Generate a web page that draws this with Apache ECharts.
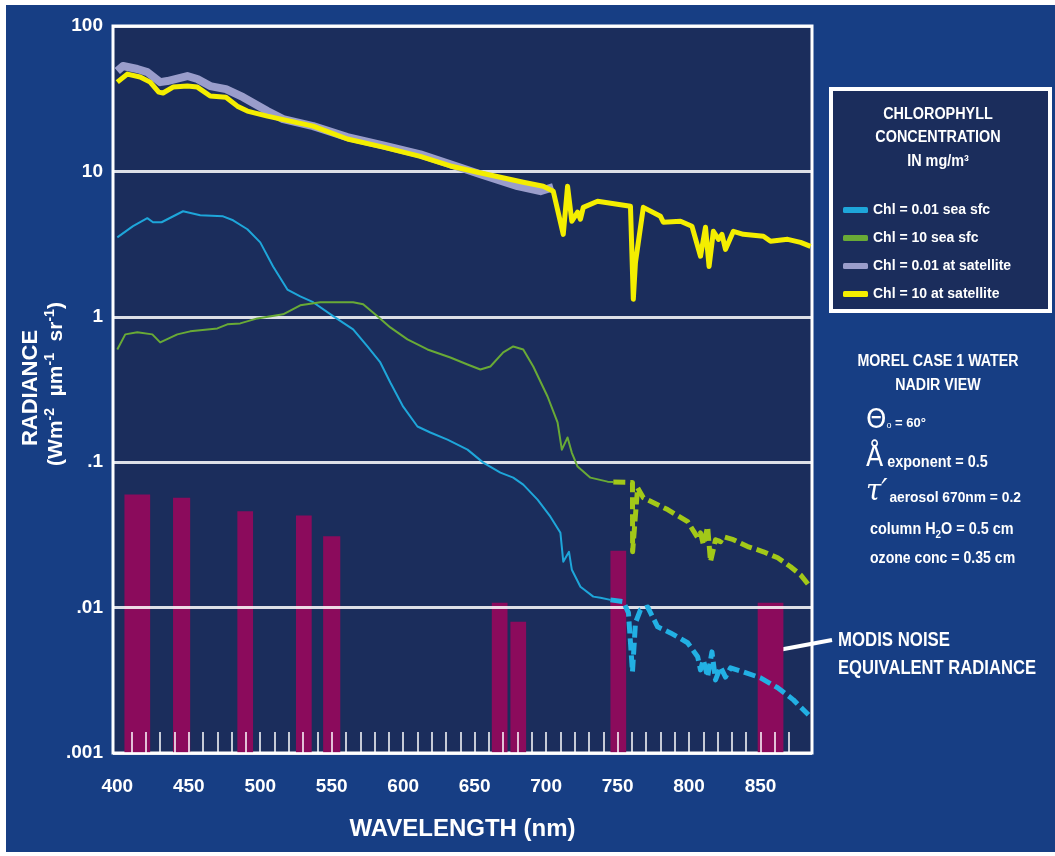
<!DOCTYPE html>
<html>
<head>
<meta charset="utf-8">
<script src="https://cdn.jsdelivr.net/npm/echarts@6/dist/echarts.min.js"></script>
<style>
  html, body { margin: 0; padding: 0; background: #ffffff; }
  #chart { width: 1055px; height: 856px; }
</style>
</head>
<body>
<div id="chart"></div>
<script>
// x ticks / labels
const xTickLabels = [400, 450, 500, 550, 600, 650, 700, 750, 800, 850]
const yTickLabels = ['.001', '.01', '.1', '1', '10', '100']

// MODIS noise equivalent radiance bands (nm) and heights
const noiseBandStart = [405, 439, 484, 525, 544, 662, 675, 745, 848]
const noiseBandEnd = [423, 451, 495, 536, 556, 673, 686, 756, 866]
const noiseRadiance = [0.060, 0.057, 0.046, 0.043, 0.031, 0.0108, 0.0080, 0.0246, 0.0108]

// Chl = 0.01 sea sfc
const blueSeaWl = [400, 411, 421, 425, 431, 446, 458, 474, 481, 491, 500, 509, 519, 528, 537, 551, 565, 575, 584, 591, 600, 610, 619, 631, 645, 656, 668, 677, 684, 694, 703, 710, 712, 716, 718, 724, 733, 738, 745]
const blueSeaRad = [3.52, 4.20, 4.77, 4.47, 4.47, 5.32, 4.99, 4.91, 4.61, 4.00, 3.25, 2.22, 1.54, 1.38, 1.26, 1.01, 0.819, 0.625, 0.485, 0.353, 0.241, 0.176, 0.160, 0.143, 0.122, 0.0993, 0.0848, 0.0783, 0.0701, 0.0553, 0.0422, 0.0327, 0.0207, 0.0242, 0.0182, 0.0139, 0.0119, 0.0117, 0.0113]
const blueSeaDashWl = [745, 754, 757.6, 760.4, 762.5, 766, 771, 778, 787, 799, 806, 808, 810, 813, 816, 818.5, 822, 825.5, 829, 838, 850, 862, 873, 883.5]
const blueSeaDashRad = [0.0113, 0.0110, 0.0092, 0.00361, 0.00786, 0.00966, 0.0101, 0.00738, 0.0067, 0.00573, 0.00459, 0.00373, 0.00437, 0.00333, 0.00496, 0.00318, 0.00391, 0.00333, 0.00385, 0.00361, 0.00329, 0.00281, 0.00232, 0.00183]

// Chl = 10 sea sfc
const greenSeaWl = [400, 405.6, 414, 424.5, 430, 442, 451, 470, 477, 486, 498, 516, 528, 542, 565, 572, 582, 591, 603, 617, 633, 645, 654, 661, 670, 677, 684, 691, 701, 708, 711, 715, 718, 722, 731, 743, 747]
const greenSeaRad = [0.596, 0.757, 0.782, 0.757, 0.667, 0.757, 0.794, 0.832, 0.887, 0.901, 0.975, 1.04, 1.20, 1.26, 1.26, 1.22, 1.01, 0.845, 0.699, 0.596, 0.525, 0.470, 0.434, 0.455, 0.569, 0.625, 0.596, 0.455, 0.283, 0.188, 0.122, 0.148, 0.116, 0.0933, 0.0783, 0.0735, 0.0730]
const greenSeaDashWl = [747, 760.4, 760.5, 764, 768, 785, 799, 806, 808, 810, 813, 815, 818.5, 822, 824, 831, 841, 852, 862, 871, 878, 883.5]
const greenSeaDashRad = [0.0730, 0.0725, 0.0242, 0.0668, 0.0570, 0.0472, 0.0390, 0.0303, 0.0327, 0.0271, 0.0360, 0.0207, 0.0293, 0.0284, 0.0307, 0.0293, 0.0263, 0.0242, 0.0220, 0.0191, 0.0168, 0.0144]

// Chl = 0.01 at satellite
const purpleSatWl = [400, 404, 414, 421, 430, 435, 449, 456, 465, 476, 488, 505, 516, 537, 561, 586, 612, 633, 654, 680, 696, 705]
const purpleSatRad = [49.0, 53.1, 50.6, 48.2, 41.1, 41.8, 45.3, 43.2, 38.6, 36.8, 32.4, 26.0, 22.9, 20.5, 17.2, 15.1, 13.1, 11.2, 9.57, 7.91, 7.31, 7.79]

// Chl = 10 at satellite
const yellowSatWl = [400, 407, 416, 423, 429, 432, 439, 449, 456, 465, 476, 484, 491, 505, 537, 561, 586, 612, 633, 652, 668, 684, 698, 705, 712, 715, 718, 722, 724, 726, 736, 759, 761, 762.5, 768, 780, 782, 794, 802, 808, 811.5, 814, 817, 820.6, 823, 825.5, 831, 838, 852, 857, 869, 878, 885]
const yellowSatRad = [41.1, 46.7, 44.6, 41.1, 35.1, 34.6, 38.0, 38.6, 38.0, 33.0, 32.4, 28.1, 26.0, 24.0, 20.5, 16.7, 14.7, 12.7, 10.9, 9.87, 9.12, 8.43, 7.91, 7.3, 3.69, 7.9, 4.54, 5.24, 4.69, 5.66, 6.23, 5.76, 1.32, 2.37, 5.66, 4.91, 4.47, 4.54, 4.2, 2.61, 4.13, 2.22, 3.87, 3.41, 3.69, 2.91, 3.87, 3.69, 3.58, 3.31, 3.41, 3.25, 3.05]

const names = ['Chl = 0.01 sea sfc', 'Chl = 10 sea sfc', 'Chl = 0.01 at satellite', 'Chl = 10 at satellite']

const FONT = '"Liberation Sans", Arial, sans-serif'
const pairs = (xs, ys) => xs.map((x, i) => [x, ys[i]])
const yMin = 0.001

// short ticks every 10 nm along the bottom
const minorTicks = []
for (let w = 410; w <= 870; w += 10) minorTicks.push(w)

const chart = echarts.init(document.getElementById('chart'))

const lineSeries = (name, xs, ys, color, width, dashed, z) => ({
    name: name,
    type: 'line',
    data: pairs(xs, ys),
    color: color,
    showSymbol: false,
    symbol: 'none',
    z: z,
    lineStyle: {
        color: color,
        width: width,
        type: dashed ? [12, 5] : 'solid',
        cap: 'butt',
        join: 'round'
    }
})

// plain text; sx squeezes it sideways since no narrow font is installed
const txt = (x, y, text, size, align, sx, extra) => ({
    type: 'text',
    x: x,
    y: y,
    scaleX: sx || 1,
    style: Object.assign({
        text: text,
        fill: '#ffffff',
        font: 'bold ' + size + 'px ' + FONT,
        align: align || 'left',
        verticalAlign: 'middle'
    }, extra || {})
})

chart.setOption({
    animation: false,
    backgroundColor: '#173e84',
    grid: {
        left: 113,
        right: 243,
        top: 26,
        bottom: 103,
        show: true,
        backgroundColor: '#1b2d5c',
        borderColor: '#ffffff',
        borderWidth: 3
    },
    legend: {
        data: names,
        orient: 'vertical',
        left: 838,
        top: 196,
        itemGap: 10,
        itemWidth: 25,
        itemHeight: 6,
        icon: 'roundRect',
        selectedMode: false,
        textStyle: {
            color: '#ffffff',
            fontWeight: 'bold',
            fontSize: 14,
            lineHeight: 18,
            fontFamily: FONT
        }
    },
    xAxis: {
        type: 'value',
        min: 397,
        max: 886,
        z: 3,
        axisLine: { show: false },
        splitLine: { show: false },
        axisTick: {
            show: true,
            inside: true,
            length: 21,
            customValues: minorTicks,
            lineStyle: { color: '#ffffff', width: 1.5 }
        },
        axisLabel: {
            customValues: xTickLabels,
            color: '#ffffff',
            fontWeight: 'bold',
            fontSize: 19,
            fontFamily: FONT,
            margin: 24
        },
        name: 'WAVELENGTH (nm)',
        nameLocation: 'middle',
        nameGap: 64,
        nameTextStyle: {
            color: '#ffffff',
            fontWeight: 'bold',
            fontSize: 24,
            fontFamily: FONT
        }
    },
    yAxis: {
        type: 'log',
        logBase: 10,
        min: yMin,
        max: 100,
        z: 3,
        axisLine: { show: false },
        axisTick: { show: false },
        splitLine: {
            show: true,
            lineStyle: { color: '#ffffff', width: 3, opacity: 0.85 }
        },
        axisLabel: {
            color: '#ffffff',
            fontWeight: 'bold',
            fontSize: 19,
            fontFamily: FONT,
            margin: 10,
            formatter: v => yTickLabels[Math.round(Math.log10(v)) + 3]
        }
    },
    series: [
        {
            type: 'custom',
            name: 'MODIS noise',
            z: 2,
            data: noiseBandStart.map((s, i) => [s, noiseBandEnd[i], noiseRadiance[i]]),
            encode: { x: [0, 1], y: 2 },
            renderItem: (params, api) => {
                const top = api.coord([api.value(0), api.value(2)])
                const bottom = api.coord([api.value(1), yMin])
                return {
                    type: 'rect',
                    shape: { x: top[0], y: top[1], width: bottom[0] - top[0], height: bottom[1] - top[1] },
                    style: { fill: '#8b0b5c' }
                }
            }
        },
        lineSeries(names[0], blueSeaWl, blueSeaRad, '#1ea6da', 2, false, 5),
        lineSeries(names[0], blueSeaDashWl, blueSeaDashRad, '#22b0e4', 5, true, 5),
        lineSeries(names[1], greenSeaWl, greenSeaRad, '#69aa36', 2, false, 5),
        lineSeries(names[1], greenSeaDashWl, greenSeaDashRad, '#a2c818', 5, true, 5),
        lineSeries(names[2], purpleSatWl, purpleSatRad, '#9a9dcb', 8, false, 6),
        lineSeries(names[3], yellowSatWl, yellowSatRad, '#f4ee00', 5, false, 7)
    ],
    graphic: [
        // white edges of the figure
        { type: 'rect', shape: { x: 0, y: 0, width: 1055, height: 5 }, style: { fill: '#ffffff' }, silent: true },
        { type: 'rect', shape: { x: 0, y: 0, width: 6, height: 856 }, style: { fill: '#ffffff' }, silent: true },
        { type: 'rect', shape: { x: 0, y: 852, width: 1055, height: 4 }, style: { fill: '#ffffff' }, silent: true },
        // legend box
        { type: 'rect', z: -1, shape: { x: 831, y: 89, width: 219, height: 222 }, style: { fill: '#1b2d5c', stroke: '#ffffff', lineWidth: 4 } },
        txt(938, 115, 'CHLOROPHYLL', 16, 'center', 0.9),
        txt(938, 138, 'CONCENTRATION', 16, 'center', 0.9),
        txt(938, 162, 'IN mg/m³', 16, 'center', 0.9),
        // y axis title
        Object.assign(txt(31, 388, 'RADIANCE', 22, 'center'), { rotation: Math.PI / 2 }),
        {
            type: 'text',
            x: 56,
            y: 384,
            rotation: Math.PI / 2,
            style: {
                text: '(Wm{sup|-2}  µm{sup|-1}  sr{sup|-1})',
                fill: '#ffffff',
                font: 'bold 21px ' + FONT,
                align: 'center',
                verticalAlign: 'middle',
                rich: {
                    sup: { fontSize: 14, fontWeight: 'bold', fontFamily: FONT, fill: '#ffffff', lineHeight: 14, padding: [0, 0, 12, 0] }
                }
            }
        },
        // conditions
        txt(938, 362, 'MOREL CASE 1 WATER', 16, 'center', 0.89),
        txt(938, 386, 'NADIR VIEW', 16, 'center', 0.89),
        {
            type: 'text', x: 866, y: 421,
            style: {
                text: '{big|Θ}{sub|o}{sm| = 60°}',
                fill: '#ffffff', verticalAlign: 'middle',
                rich: {
                    big: { fontSize: 26, fontFamily: 'DejaVu Sans', fill: '#ffffff', lineHeight: 28 },
                    sub: { fontSize: 9, fontFamily: FONT, fill: '#ffffff', lineHeight: 9, padding: [10, 0, 0, 0] },
                    sm: { fontSize: 13, fontWeight: 'bold', fontFamily: FONT, fill: '#ffffff', lineHeight: 14, padding: [4, 0, 0, 0] }
                }
            }
        },
        {
            type: 'text', x: 866, y: 459, scaleX: 0.9,
            style: {
                text: '{big|Å}{sm| exponent = 0.5}',
                fill: '#ffffff', verticalAlign: 'middle',
                rich: {
                    big: { fontSize: 28, fontFamily: 'DejaVu Sans', fill: '#ffffff', lineHeight: 32 },
                    sm: { fontSize: 16, fontWeight: 'bold', fontFamily: FONT, fill: '#ffffff', lineHeight: 16, padding: [8, 0, 0, 0] }
                }
            }
        },
        {
            type: 'text', x: 866, y: 492, scaleX: 0.92,
            style: {
                text: '{big|τ′}{sm|aerosol 670nm = 0.2}',
                fill: '#ffffff', verticalAlign: 'middle',
                rich: {
                    big: { fontSize: 30, fontStyle: 'italic', fontFamily: 'DejaVu Serif', fill: '#ffffff', lineHeight: 32 },
                    sm: { fontSize: 15, fontWeight: 'bold', fontFamily: FONT, fill: '#ffffff', lineHeight: 15, padding: [12, 0, 0, 2] }
                }
            }
        },
        {
            type: 'text', x: 870, y: 530, scaleX: 0.9,
            style: {
                text: '{sm|column H}{sub|2}{sm|O = 0.5 cm}',
                fill: '#ffffff', verticalAlign: 'middle',
                rich: {
                    sm: { fontSize: 16, fontWeight: 'bold', fontFamily: FONT, fill: '#ffffff', lineHeight: 18 },
                    sub: { fontSize: 11, fontWeight: 'bold', fontFamily: FONT, fill: '#ffffff', lineHeight: 11, padding: [9, 0, 0, 0] }
                }
            }
        },
        txt(870, 559, 'ozone conc = 0.35 cm', 16, 'left', 0.88),
        // MODIS noise annotation
        { type: 'line', shape: { x1: 768, y1: 652, x2: 832, y2: 640 }, style: { stroke: '#ffffff', lineWidth: 4 } },
        txt(838, 640, 'MODIS NOISE', 20, 'left', 0.84),
        txt(838, 668, 'EQUIVALENT RADIANCE', 20, 'left', 0.83)
    ]
})
</script>
</body>
</html>
